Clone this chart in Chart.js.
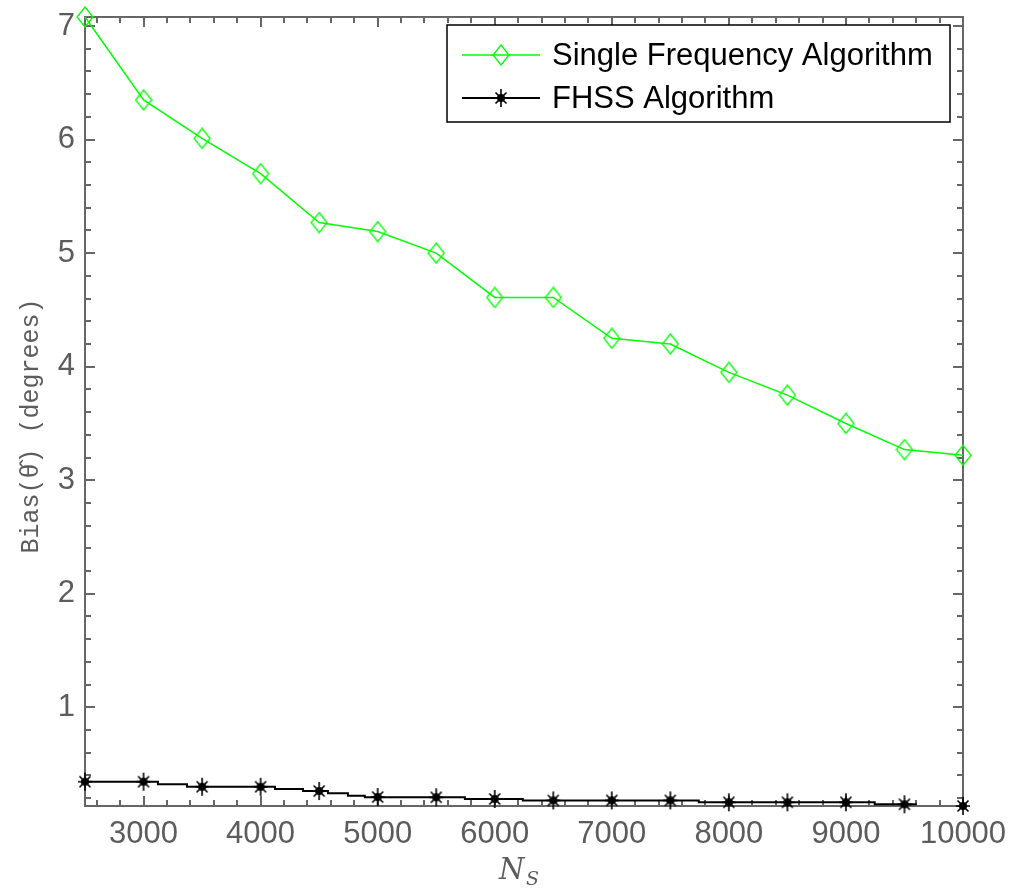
<!DOCTYPE html>
<html>
<head>
<meta charset="utf-8">
<script src="https://cdn.jsdelivr.net/npm/chart.js@4/dist/chart.umd.min.js"></script>
<style>
body { margin: 0; background: #fff; }
</style>
</head>
<body>
<canvas id="myChart" width="1011" height="888"></canvas>
<script>
// values
var nsValues = [2500, 3000, 3500, 4000, 4500, 5000, 5500, 6000, 6500, 7000, 7500, 8000, 8500, 9000, 9500, 10000];
var singleFreq = [7.08, 6.35, 6.01, 5.70, 5.27, 5.19, 5.00, 4.61, 4.61, 4.25, 4.20, 3.95, 3.75, 3.50, 3.27, 3.22];
var fhss = [0.345, 0.345, 0.300, 0.300, 0.263, 0.210, 0.208, 0.193, 0.180, 0.180, 0.180, 0.164, 0.164, 0.164, 0.146, 0.131];
// the FHSS curve is drawn as a staircase that stops short of 10000
var fhssStepX = [2500, 3123, 3371, 4123, 4362, 4575, 4746, 4890, 5745, 6240, 7743, 9246, 9605];
var fhssStepY = [0.345, 0.322, 0.300, 0.281, 0.263, 0.243, 0.222, 0.208, 0.193, 0.180, 0.164, 0.146, 0.146];
var xTicks = [3000, 4000, 5000, 6000, 7000, 8000, 9000, 10000];
var yTicks = [1, 2, 3, 4, 5, 6, 7];
var seriesNames = ["Single Frequency Algorithm", "FHSS Algorithm"];

var axisGray = '#666666';
var labelGray = '#5c5c5c';

function makeDiamond() {
  var c = document.createElement('canvas');
  c.width = 18; c.height = 22;
  var g = c.getContext('2d');
  g.strokeStyle = '#00ff00';
  g.lineWidth = 1.3;
  g.beginPath();
  g.moveTo(9, 1); g.lineTo(17, 11); g.lineTo(9, 21); g.lineTo(1, 11); g.closePath();
  g.stroke();
  return c;
}

function makeStar() {
  var c = document.createElement('canvas');
  c.width = 16; c.height = 20;
  var g = c.getContext('2d');
  g.strokeStyle = '#000';
  g.fillStyle = '#000';
  g.lineWidth = 1.6;
  g.beginPath();
  g.moveTo(8, 1); g.lineTo(8, 19);
  g.moveTo(1, 10); g.lineTo(15, 10);
  g.moveTo(2.5, 4.5); g.lineTo(13.5, 15.5);
  g.moveTo(13.5, 4.5); g.lineTo(2.5, 15.5);
  g.stroke();
  g.beginPath();
  g.arc(8, 10, 4, 0, Math.PI * 2);
  g.fill();
  return c;
}

var diamond = makeDiamond();
var star = makeStar();

function pts(xs, ys) {
  return xs.map(function (x, i) { return {x: x, y: ys[i]}; });
}

var framePlugin = {
  id: 'frame',
  beforeDatasetsDraw: function (chart) {
    var ctx = chart.ctx, a = chart.chartArea;
    var x = chart.scales.x, y = chart.scales.y;
    ctx.save();
    ctx.strokeStyle = axisGray;
    ctx.lineWidth = 2;
    ctx.beginPath();
    for (var v = 2600; v < 10000; v += 200) {
      var px = Math.round(x.getPixelForValue(v));
      var len = (v % 1000 === 0) ? 10 : 6;
      ctx.moveTo(px, a.bottom); ctx.lineTo(px, a.bottom - len);
      ctx.moveTo(px, a.top); ctx.lineTo(px, a.top + len);
    }
    for (var k = 1; k <= 35; k++) {
      var val = k * 0.2;
      var py = Math.round(y.getPixelForValue(val));
      if (py <= a.top + 1 || py >= a.bottom - 1) continue;
      var l2 = (k % 5 === 0) ? 10 : 6;
      ctx.moveTo(a.left, py); ctx.lineTo(a.left + l2, py);
      ctx.moveTo(a.right, py); ctx.lineTo(a.right - l2, py);
    }
    ctx.stroke();
    ctx.strokeRect(a.left, a.top, a.right - a.left, a.bottom - a.top);

    // axis titles
    ctx.fillStyle = labelGray;
    ctx.textBaseline = 'alphabetic';
    ctx.font = 'italic 29px "DejaVu Serif"';
    ctx.textAlign = 'left';
    ctx.fillText('N', 499, 879);
    ctx.font = 'italic 19px "DejaVu Serif"';
    ctx.fillText('S', 526, 885);

    ctx.translate(38, 426);
    ctx.rotate(-Math.PI / 2);
    ctx.textAlign = 'center';
    ctx.font = '25px "Liberation Mono"';
    ctx.fillText('Bias(\u03B8\u0302) (degrees)', 0, 0);
    ctx.restore();
  },
  afterDraw: function (chart) {
    var ctx = chart.ctx;
    ctx.save();
    ctx.fillStyle = '#fff';
    ctx.fillRect(447, 25, 503, 97);
    ctx.strokeStyle = '#000';
    ctx.lineWidth = 1.5;
    ctx.strokeRect(447, 25, 503, 97);

    var rows = [55, 98];
    var colors = ['#00ff00', '#000000'];
    var marks = [diamond, star];
    for (var i = 0; i < 2; i++) {
      ctx.strokeStyle = colors[i];
      ctx.lineWidth = i === 0 ? 1.5 : 2;
      ctx.beginPath();
      ctx.moveTo(462, rows[i]); ctx.lineTo(540, rows[i]);
      ctx.stroke();
      ctx.drawImage(marks[i], 501 - marks[i].width / 2, rows[i] - marks[i].height / 2);
      ctx.fillStyle = '#000';
      ctx.font = '31px "Liberation Sans"';
      ctx.textAlign = 'left';
      ctx.textBaseline = 'middle';
      ctx.fillText(seriesNames[i], 552, rows[i] + 1);
    }
    ctx.restore();
  }
};

new Chart("myChart", {
  type: 'line',
  data: {
    datasets: [
      {
        label: seriesNames[0],
        data: pts(nsValues, singleFreq),
        borderColor: '#00ff00',
        borderWidth: 1.5,
        pointStyle: diamond,
        pointRadius: 9,
        clip: false,
        tension: 0
      },
      {
        label: seriesNames[1] + ' line',
        data: pts(fhssStepX, fhssStepY),
        borderColor: '#000',
        borderWidth: 2,
        stepped: true,
        pointRadius: 0,
        clip: false
      },
      {
        label: seriesNames[1],
        data: pts(nsValues, fhss),
        showLine: false,
        borderColor: '#000',
        backgroundColor: '#000',
        pointStyle: star,
        pointRadius: 9,
        clip: false
      }
    ]
  },
  options: {
    responsive: false,
    devicePixelRatio: 1,
    animation: false,
    layout: {padding: {top: 17, right: 48, left: 0, bottom: 0}},
    plugins: {
      legend: {display: false},
      tooltip: {enabled: false}
    },
    scales: {
      x: {
        type: 'linear',
        min: 2500,
        max: 10000,
        grid: {display: false, drawTicks: false},
        border: {display: false},
        afterBuildTicks: function (s) { s.ticks = xTicks.map(function (v) { return {value: v}; }); },
        afterFit: function (s) { s.height = 82; s.paddingLeft = 0; s.paddingRight = 0; },
        ticks: {
          color: labelGray,
          font: {family: 'Liberation Sans', size: 31},
          padding: 10,
          maxRotation: 0,
          autoSkip: false,
          callback: function (v) { return String(v); }
        }
      },
      y: {
        type: 'linear',
        min: 0.131,
        max: 7.08,
        grid: {display: false, drawTicks: false},
        border: {display: false},
        afterBuildTicks: function (s) { s.ticks = yTicks.map(function (v) { return {value: v}; }); },
        afterFit: function (s) { s.width = 85; s.paddingTop = 0; s.paddingBottom = 0; },
        ticks: {
          color: labelGray,
          font: {family: 'Liberation Sans', size: 31},
          padding: 10,
          autoSkip: false,
          callback: function (v) { return String(v); }
        }
      }
    }
  },
  plugins: [framePlugin]
});
</script>
</body>
</html>
